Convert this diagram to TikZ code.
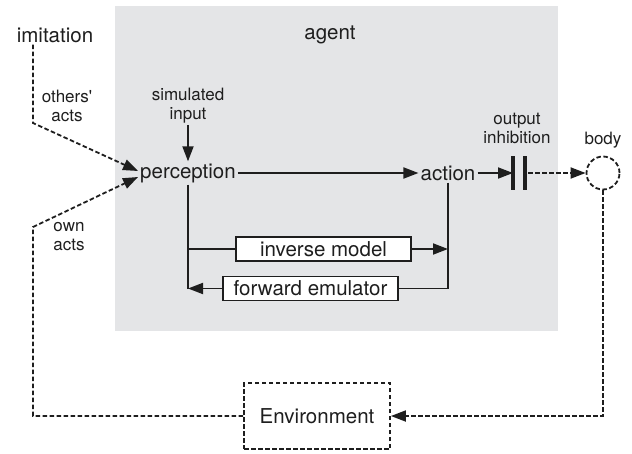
\documentclass[tikz,border=0pt]{standalone}
\usepackage{fontspec}
\setmainfont{TeX Gyre Heros}
\usetikzlibrary{arrows.meta}
\definecolor{agentgray}{RGB}{228,229,231}
\definecolor{ink}{RGB}{30,30,30}
\tikzset{
  big/.style={font=\fontsize{20.5}{24}\selectfont, text=ink, inner sep=2pt},
  small/.style={font=\fontsize{17}{19}\selectfont, text=ink, align=center, inner sep=1pt},
  line/.style={line width=1.8pt, draw=ink},
  arr/.style={line, -{Triangle[length=15pt,width=11pt]}},
  darr/.style={arr, dash pattern=on 4.5pt off 2.5pt},
  modelbox/.style={big, line, fill=white, minimum width=175pt, minimum height=24pt},
  envbox/.style={big, line, dash pattern=on 4.5pt off 2.5pt, minimum width=146pt, minimum height=66pt}
}
\begin{document}
\begin{tikzpicture}[x=1pt,y=-1pt]
  \useasboundingbox (0,0) rectangle (632,453);
  % agente
  \fill[agentgray] (115,6) rectangle (558,331);

  \node[big] (imit) at (55,35) {imitation};
  \node[big] (agent) at (330,35) {agent};
  \node[small] (others) at (67,106) {others\textquotesingle\\acts};
  \node[small] (own) at (69,237) {own\\acts};
  \node[small] (sim) at (188,106) {simulated\\input};
  \node[big] (perc) at (188,173) {perception};
  \node[big] (act) at (448,173) {action};
  \node[small] (inhlbl) at (517,128) {output\\inhibition};
  \node[small] (bodylbl) at (603,140) {body};
  \node[line, circle, dash pattern=on 4.5pt off 2.5pt, minimum size=33pt, inner sep=0pt] (body) at (603,173) {};
  \node[modelbox] (inv) at (323.5,249) {inverse model};
  \node[modelbox] (fwd) at (310.5,288.5) {forward emulator};
  \node[envbox] (env) at (317,416) {Environment};
  \coordinate (inh) at (519,173);
  \coordinate (bendA) at (33,123);
  \coordinate (bendB) at (33,227);

  % inhibicion
  \draw[line, line width=4.5pt] ([xshift=-6pt]inh) +(0,-17) -- +(0,17);
  \draw[line, line width=4.5pt] ([xshift=6pt]inh) +(0,-17) -- +(0,17);

  \draw[arr] (sim) -- (perc);
  \draw[arr] (perc) -- (act);
  \draw[arr] (act) -- ([xshift=-6pt]inh);
  \draw[darr] ([xshift=9pt]inh) -- (body);

  % modelos
  \draw[line] (perc.south) -- (perc.south |- fwd.west);
  \draw[line] (perc.south |- inv.west) -- (inv.west);
  \draw[arr] (inv.east) -- (act.south |- inv.east);
  \draw[line] (act.south) -- (act.south |- fwd.east) -- (fwd.east);
  \draw[arr] (fwd.west) -- (perc.south |- fwd.west);

  % entorno
  \draw[darr] (imit.south -| bendA) -- (bendA) -- ([yshift=2pt]perc.west);
  \draw[darr] (env.west) -| (bendB) -- ([yshift=-4pt]perc.west);
  \draw[darr] (body.south) |- (env.east);
\end{tikzpicture}
\end{document}
